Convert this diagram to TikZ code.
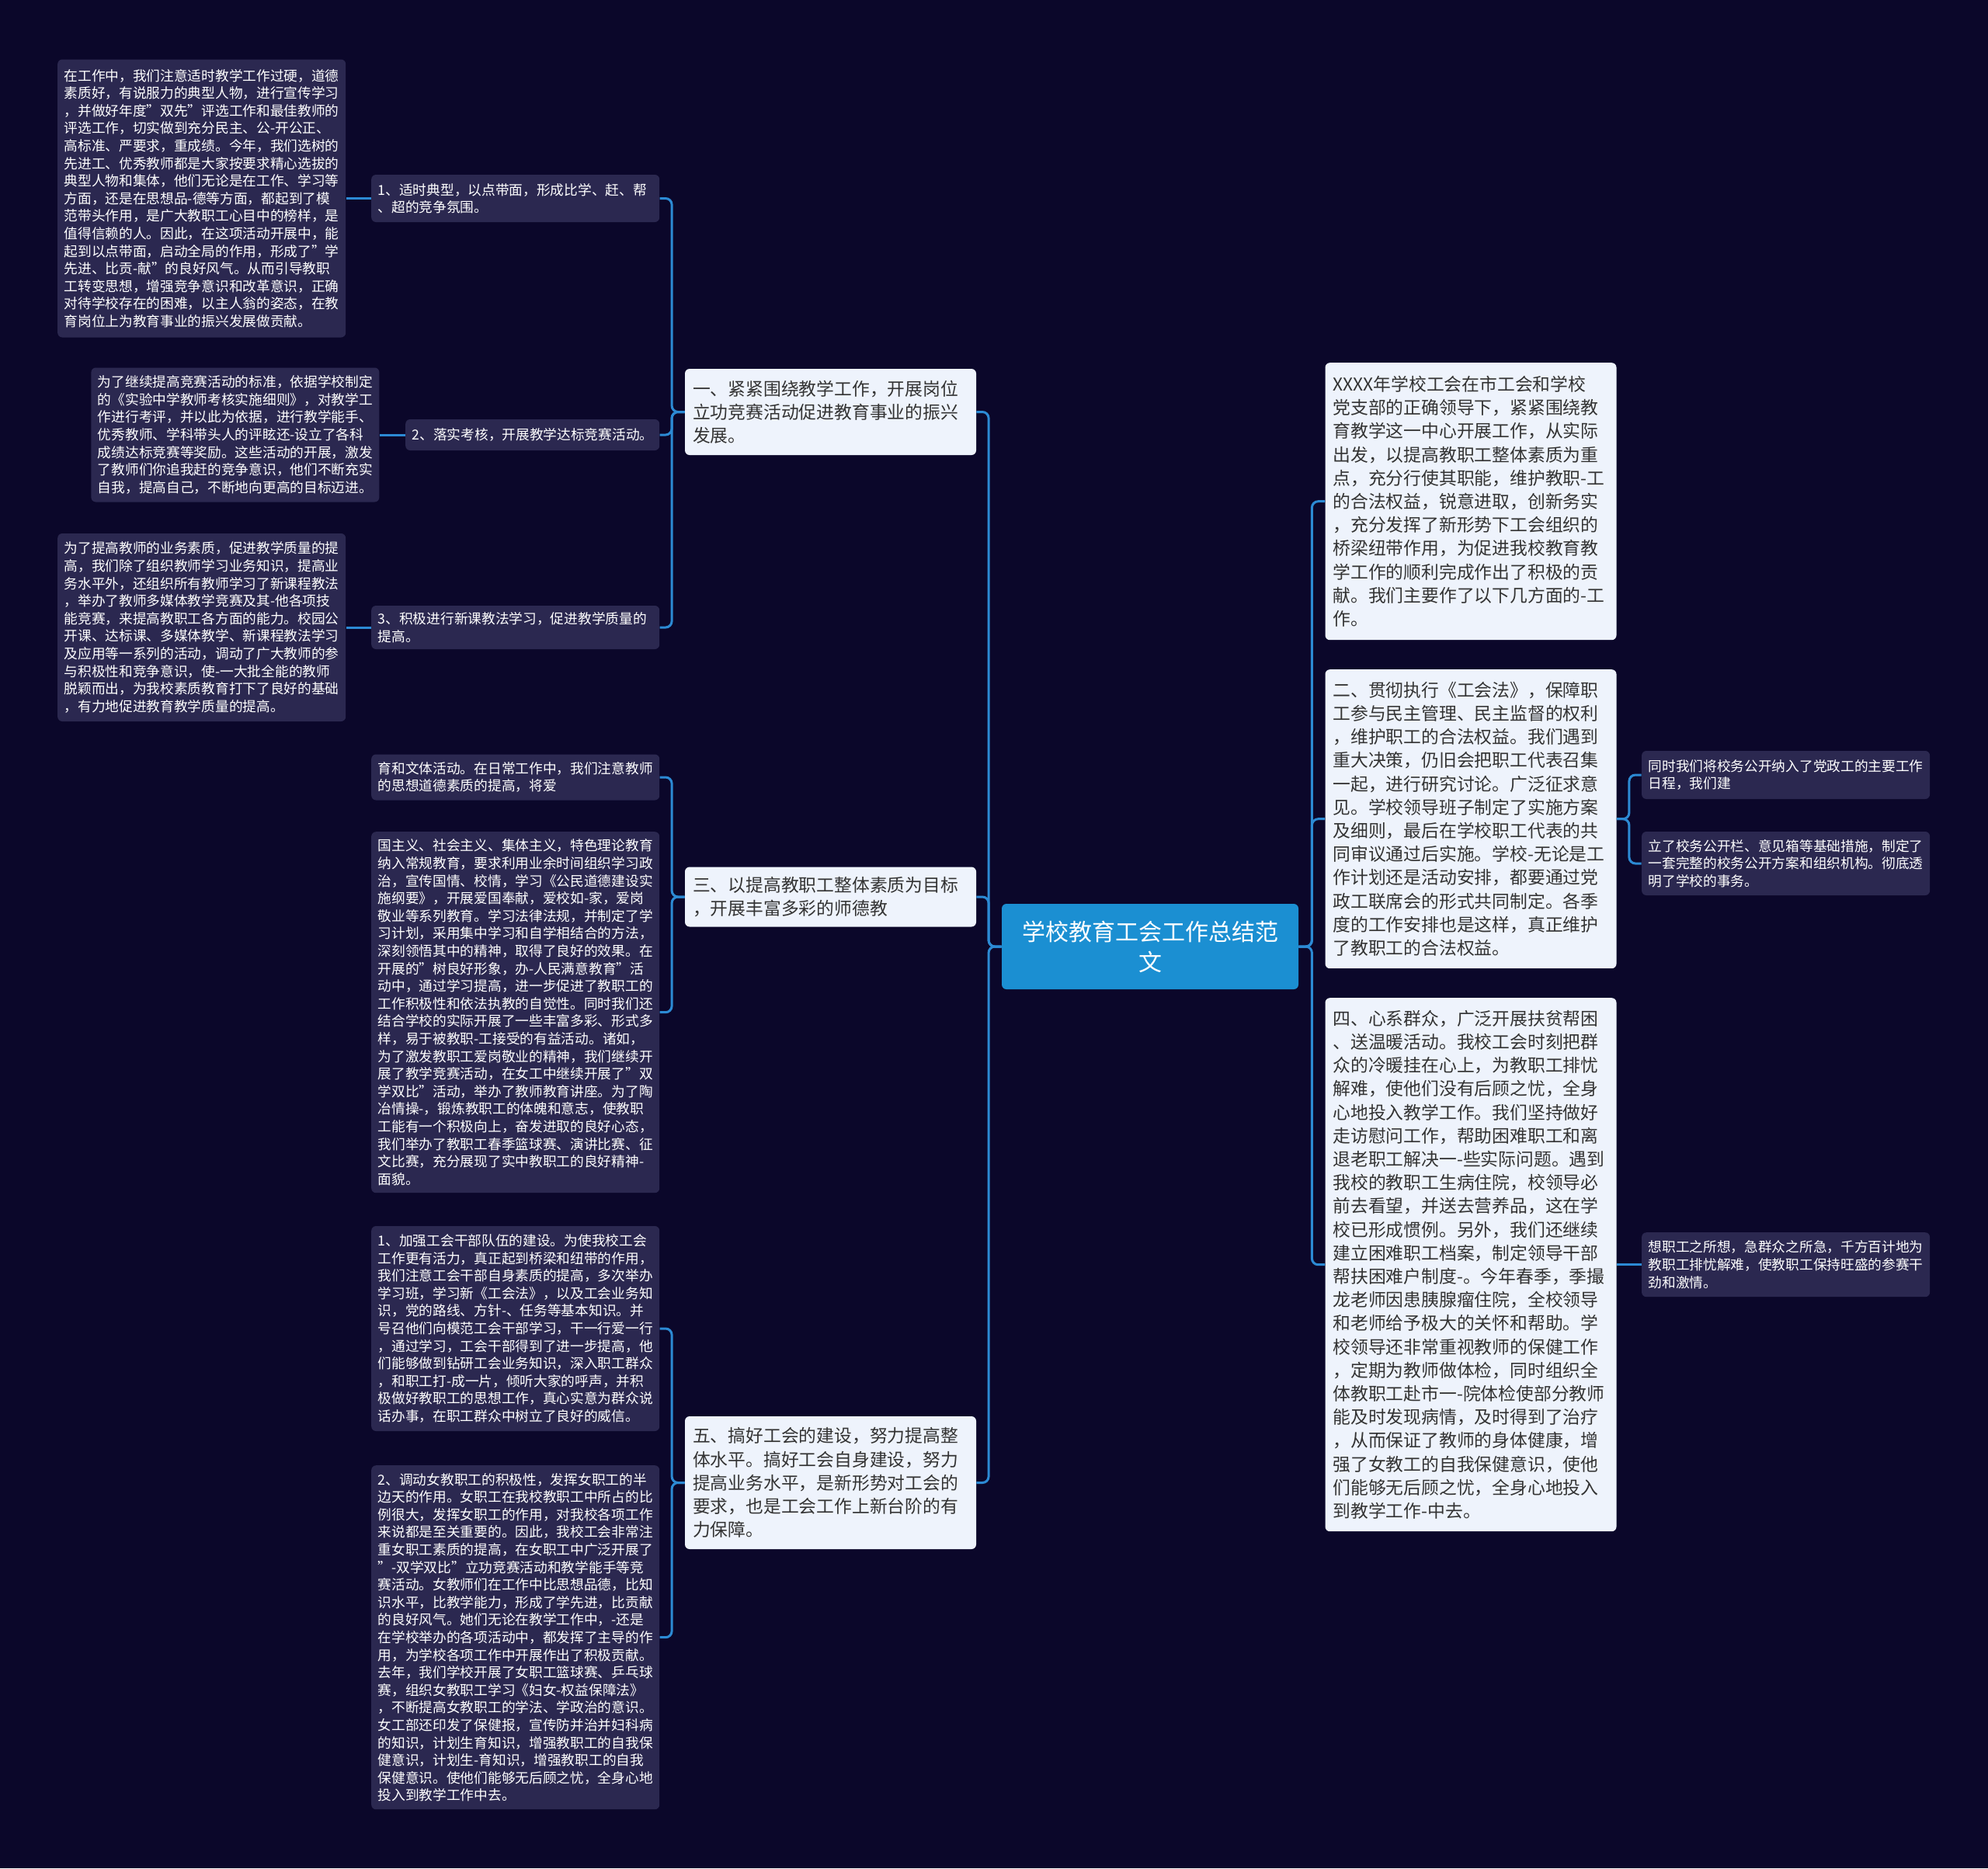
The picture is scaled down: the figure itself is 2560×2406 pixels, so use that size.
\documentclass[tikz,border=0pt]{standalone}
\usepackage{fontspec}
\newfontfamily\cjkfont{Noto Sans CJK SC}
\definecolor{bgnavy}{HTML}{0B072A}
\definecolor{leafbg}{HTML}{2B2850}
\definecolor{topicbg}{HTML}{EEF3FC}
\definecolor{rootbg}{HTML}{1B8FD2}
\definecolor{linkblue}{HTML}{2C8AD4}
\definecolor{topictext}{HTML}{333333}

\begin{document}
\begin{tikzpicture}[x=0.5pt, y=-0.5pt,
    root/.style={fill=rootbg, text=white, rounded corners=3pt, align=center, text width=175pt, inner xsep=8pt, inner ysep=2pt, font={\cjkfont\fontsize{15pt}{19.5pt}\selectfont}},
    topic/.style={fill=topicbg, text=topictext, rounded corners=3pt, align=left, text width=177.5pt, inner xsep=5pt, inner ysep=2pt, font={\cjkfont\fontsize{11.4pt}{15.1pt}\selectfont}},
    leaf/.style={fill=leafbg, text=white, rounded corners=3pt, align=left, text width=177pt, inner xsep=4.25pt, inner ysep=2pt, font={\cjkfont\fontsize{8.85pt}{11.3pt}\selectfont}},
    link/.style={draw=linkblue, line width=1.5pt, rounded corners=4pt}
]
\fill[bgnavy] (0,0) rectangle (2560,2406);

% centre
\node[root, minimum height=55pt] (ctr) at (1481,1219) {学校教育工会工作总结范\\文};

% left topics
\node[topic, minimum height=55.5pt] (b1) at (1069.5,530.5) {一、紧紧围绕教学工作，开展岗位\\立功竞赛活动促进教育事业的振兴\\发展。};
\node[topic, minimum height=38.5pt] (b3) at (1069.5,1155) {三、以提高教职工整体素质为目标\\，开展丰富多彩的师德教};
\node[topic, minimum height=85.5pt] (b5) at (1069.5,1909.5) {五、搞好工会的建设，努力提高整\\体水平。搞好工会自身建设，努力\\提高业务水平，是新形势对工会的\\要求，也是工会工作上新台阶的有\\力保障。};

% right topics
\node[topic, minimum height=178.5pt] (r0) at (1894,645.7) {XXXX年学校工会在市工会和学校\\党支部的正确领导下，紧紧围绕教\\育教学这一中心开展工作，从实际\\出发，以提高教职工整体素质为重\\点，充分行使其职能，维护教职-工\\的合法权益，锐意进取，创新务实\\，充分发挥了新形势下工会组织的\\桥梁纽带作用，为促进我校教育教\\学工作的顺利完成作出了积极的贡\\献。我们主要作了以下几方面的-工\\作。};
\node[topic, minimum height=192.5pt] (r2) at (1894,1054.7) {二、贯彻执行《工会法》，保障职\\工参与民主管理、民主监督的权利\\，维护职工的合法权益。我们遇到\\重大决策，仍旧会把职工代表召集\\一起，进行研究讨论。广泛征求意\\见。学校领导班子制定了实施方案\\及细则，最后在学校职工代表的共\\同审议通过后实施。学校-无论是工\\作计划还是活动安排，都要通过党\\政工联席会的形式共同制定。各季\\度的工作安排也是这样，真正维护\\了教职工的合法权益。};
\node[topic, minimum height=343.5pt] (r4) at (1894,1628.7) {四、心系群众，广泛开展扶贫帮困\\、送温暖活动。我校工会时刻把群\\众的冷暖挂在心上，为教职工排忧\\解难，使他们没有后顾之忧，全身\\心地投入教学工作。我们坚持做好\\走访慰问工作，帮助困难职工和离\\退老职工解决一-些实际问题。遇到\\我校的教职工生病住院，校领导必\\前去看望，并送去营养品，这在学\\校已形成惯例。另外，我们还继续\\建立困难职工档案，制定领导干部\\帮扶困难户制度-。今年春季，季撮\\龙老师因患胰腺瘤住院，全校领导\\和老师给予极大的关怀和帮助。学\\校领导还非常重视教师的保健工作\\，定期为教师做体检，同时组织全\\体教职工赴市一-院体检使部分教师\\能及时发现病情，及时得到了治疗\\，从而保证了教师的身体健康，增\\强了女教工的自我保健意识，使他\\们能够无后顾之忧，全身心地投入\\到教学工作-中去。};

% branch one
\node[leaf, minimum height=30.5pt] (l1a) at (663.7,255.5) {1、适时典型，以点带面，形成比学、赶、帮\\、超的竞争氛围。};
\node[leaf, text width=155pt, minimum height=20pt] (l1b) at (685.7,560) {2、落实考核，开展教学达标竞赛活动。};
\node[leaf, minimum height=28pt] (l1c) at (663.7,808) {3、积极进行新课教法学习，促进教学质量的\\提高。};
\node[leaf, minimum height=179pt] (t1) at (259.7,255.5) {在工作中，我们注意适时教学工作过硬，道德\\素质好，有说服力的典型人物，进行宣传学习\\，并做好年度”双先”评选工作和最佳教师的\\评选工作，切实做到充分民主、公-开公正、\\高标准、严要求，重成绩。今年，我们选树的\\先进工、优秀教师都是大家按要求精心选拔的\\典型人物和集体，他们无论是在工作、学习等\\方面，还是在思想品-德等方面，都起到了模\\范带头作用，是广大教职工心目中的榜样，是\\值得信赖的人。因此，在这项活动开展中，能\\起到以点带面，启动全局的作用，形成了”学\\先进、比贡-献”的良好风气。从而引导教职\\工转变思想，增强竞争意识和改革意识，正确\\对待学校存在的困难，以主人翁的姿态，在教\\育岗位上为教育事业的振兴发展做贡献。};
\node[leaf, minimum height=86.5pt] (t2) at (302.9,560) {为了继续提高竞赛活动的标准，依据学校制定\\的《实验中学教师考核实施细则》，对教学工\\作进行考评，并以此为依据，进行教学能手、\\优秀教师、学科带头人的评眩还-设立了各科\\成绩达标竞赛等奖励。这些活动的开展，激发\\了教师们你追我赶的竞争意识，他们不断充实\\自我，提高自己，不断地向更高的目标迈进。};
\node[leaf, minimum height=121pt] (t3) at (259.7,808) {为了提高教师的业务素质，促进教学质量的提\\高，我们除了组织教师学习业务知识，提高业\\务水平外，还组织所有教师学习了新课程教法\\，举办了教师多媒体教学竞赛及其-他各项技\\能竞赛，来提高教职工各方面的能力。校园公\\开课、达标课、多媒体教学、新课程教法学习\\及应用等一系列的活动，调动了广大教师的参\\与积极性和竞争意识，使-一大批全能的教师\\脱颖而出，为我校素质教育打下了良好的基础\\，有力地促进教育教学质量的提高。};

% branch three
\node[leaf, minimum height=29.5pt] (l3a) at (663.7,1001) {育和文体活动。在日常工作中，我们注意教师\\的思想道德素质的提高，将爱};
\node[leaf, minimum height=232.5pt] (l3b) at (663.7,1303.7) {国主义、社会主义、集体主义，特色理论教育\\纳入常规教育，要求利用业余时间组织学习政\\治，宣传国情、校情，学习《公民道德建设实\\施纲要》，开展爱国奉献，爱校如-家，爱岗\\敬业等系列教育。学习法律法规，并制定了学\\习计划，采用集中学习和自学相结合的方法，\\深刻领悟其中的精神，取得了良好的效果。在\\开展的”树良好形象，办-人民满意教育”活\\动中，通过学习提高，进一步促进了教职工的\\工作积极性和依法执教的自觉性。同时我们还\\结合学校的实际开展了一些丰富多彩、形式多\\样，易于被教职-工接受的有益活动。诸如，\\为了激发教职工爱岗敬业的精神，我们继续开\\展了教学竞赛活动，在女工中继续开展了”双\\学双比”活动，举办了教师教育讲座。为了陶\\冶情操-，锻炼教职工的体魄和意志，使教职\\工能有一个积极向上，奋发进取的良好心态，\\我们举办了教职工春季篮球赛、演讲比赛、征\\文比赛，充分展现了实中教职工的良好精神-\\面貌。};

% branch five
\node[leaf, minimum height=132pt] (l5a) at (663.7,1711) {1、加强工会干部队伍的建设。为使我校工会\\工作更有活力，真正起到桥梁和纽带的作用，\\我们注意工会干部自身素质的提高，多次举办\\学习班，学习新《工会法》，以及工会业务知\\识，党的路线、方针-、任务等基本知识。并\\号召他们向模范工会干部学习，干一行爱一行\\，通过学习，工会干部得到了进一步提高，他\\们能够做到钻研工会业务知识，深入职工群众\\，和职工打-成一片，倾听大家的呼声，并积\\极做好教职工的思想工作，真心实意为群众说\\话办事，在职工群众中树立了良好的威信。};
\node[leaf, minimum height=221.5pt] (l5b) at (663.7,2108.7) {2、调动女教职工的积极性，发挥女职工的半\\边天的作用。女职工在我校教职工中所占的比\\例很大，发挥女职工的作用，对我校各项工作\\来说都是至关重要的。因此，我校工会非常注\\重女职工素质的提高，在女职工中广泛开展了\\”-双学双比”立功竞赛活动和教学能手等竞\\赛活动。女教师们在工作中比思想品德，比知\\识水平，比教学能力，形成了学先进，比贡献\\的良好风气。她们无论在教学工作中，-还是\\在学校举办的各项活动中，都发挥了主导的作\\用，为学校各项工作中开展作出了积极贡献。\\去年，我们学校开展了女职工篮球赛、乒乓球\\赛，组织女教职工学习《妇女-权益保障法》\\，不断提高女教职工的学法、学政治的意识。\\女工部还印发了保健报，宣传防并治并妇科病\\的知识，计划生育知识，增强教职工的自我保\\健意识，计划生-育知识，增强教职工的自我\\保健意识。使他们能够无后顾之忧，全身心地\\投入到教学工作中去。};

% right leaves
\node[leaf, minimum height=31pt] (r2a) at (2299.6,998) {同时我们将校务公开纳入了党政工的主要工作\\日程，我们建};
\node[leaf, minimum height=41pt] (r2b) at (2299.6,1112) {立了校务公开栏、意见箱等基础措施，制定了\\一套完整的校务公开方案和组织机构。彻底透\\明了学校的事务。};
\node[leaf, minimum height=41.5pt] (r4a) at (2299.6,1628.7) {想职工之所想，急群众之所急，千方百计地为\\教职工排忧解难，使教职工保持旺盛的参赛干\\劲和激情。};

% links
\foreach \t in {b1,b3,b5} \draw[link] (ctr.west) -- ++(-16.5,0) |- (\t.east);
\foreach \t in {r0,r2,r4} \draw[link] (ctr.east) -- ++(17,0) |- (\t.west);
\foreach \t in {l1a,l1b,l1c} \draw[link] (b1.west) -- ++(-16.5,0) |- (\t.east);
\foreach \t in {l3a,l3b} \draw[link] (b3.west) -- ++(-16.5,0) |- (\t.east);
\foreach \t in {l5a,l5b} \draw[link] (b5.west) -- ++(-16.5,0) |- (\t.east);
\foreach \t in {r2a,r2b} \draw[link] (r2.east) -- ++(16,0) |- (\t.west);
\draw[link] (l1a.west) -- (t1.east);
\draw[link] (l1b.west) -- (t2.east);
\draw[link] (l1c.west) -- (t3.east);
\draw[link] (r4.east) -- (r4a.west);
\end{tikzpicture}
\end{document}
